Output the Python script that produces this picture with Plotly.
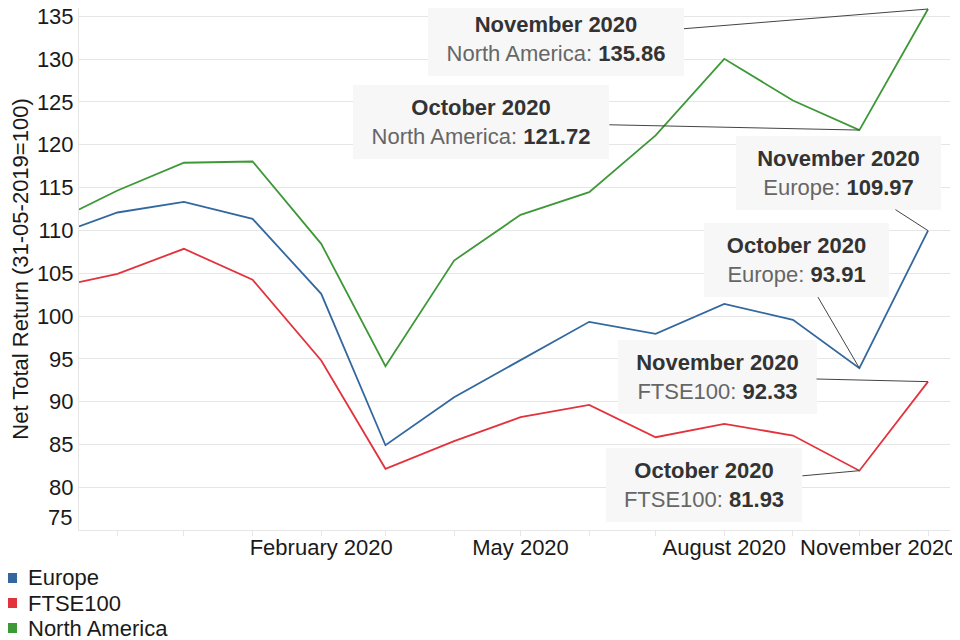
import plotly.graph_objects as go

# ---- data ----
dates = ["2019-10-14 15:00", "2019-11-01", "2019-12-01", "2020-01-01", "2020-02-01",
         "2020-03-01", "2020-04-01", "2020-05-01", "2020-06-01", "2020-07-01",
         "2020-08-01", "2020-09-01", "2020-10-01", "2020-11-01"]
europe = [110.46, 112.09, 113.34, 111.35, 102.59, 84.90, 90.51, 94.88, 99.32, 97.92,
          101.42, 99.55, 93.91, 109.97]
ftse100 = [103.95, 104.93, 107.85, 104.23, 94.80, 82.15, 85.38, 88.18, 89.62, 85.84,
           87.40, 86.04, 81.93, 92.33]
north_america = [112.44, 114.66, 117.90, 118.05, 108.43, 94.14, 106.48, 111.82, 114.46,
                 121.09, 130.04, 125.18, 121.72, 135.86]

series_names = ["Europe", "FTSE100", "North America"]
series_values = [europe, ftse100, north_america]
series_colors = ["#33689f", "#e2333d", "#3d9837"]

tick_dates = ["2019-11-01", "2019-12-01", "2020-01-01", "2020-02-01", "2020-03-01",
              "2020-04-01", "2020-05-01", "2020-06-01", "2020-07-01", "2020-08-01",
              "2020-09-01", "2020-10-01", "2020-11-01"]
tick_labels = ["", "", "", "February 2020", "", "", "May 2020", "", "", "August 2020",
               "", "", ""]
last_tick_label = "November 2020"
month_names = {"2020-10-01": "October 2020", "2020-11-01": "November 2020"}

y_ticks = list(range(75, 140, 5))
y_tick_labels = [""] + [str(v) for v in y_ticks[1:]]   # lowest label drawn lifted

FONT = "Liberation Sans, Arial, sans-serif"
OFF = 8  # page body margin of the html page
W, H = 952, 632
ML, MR, MT, MB = 71, 10, 0, 110
PW, PH = W - ML - MR, H - MT - MB


def px_x(px):
    return (px - OFF - ML) / PW


def px_y(py):
    return (H - MB - (py - OFF)) / PH


fig = go.Figure()
for name, vals, col in zip(series_names, series_values, series_colors):
    fig.add_trace(go.Scatter(x=dates, y=vals, mode="lines", name=name,
                             line=dict(color=col, width=1.8), showlegend=False))

# ---- callouts: (series index, point index, ax, ay, box width) ----
callouts = [
    (2, 13, -372, 30, 240),
    (2, 12, -378, -8, 240),
    (0, 13, -90, -58, 189),
    (0, 12, -63, -108, 169),
    (1, 13, -211, -5, 183),
    (1, 12, -155, 14, 180),
]
annotations = []
for si, pi, ax, ay, bw in callouts:
    txt = ("<b>%s</b><br><span style='color:#666666'>%s:</span> <b>%.2f</b>"
           % (month_names[dates[pi]], series_names[si], series_values[si][pi]))
    annotations.append(dict(
        x=dates[pi], y=series_values[si][pi], xref="x", yref="y",
        text=txt, showarrow=True, arrowhead=0, arrowwidth=1, arrowcolor="#444444",
        ax=ax, ay=ay, bgcolor="#f7f7f7", borderpad=8, borderwidth=0,
        width=bw, height=58, align="center",
        font=dict(family=FONT, size=22, color="#333333")))

# last x tick label, kept inside the canvas
annotations.append(dict(
    x=tick_dates[-1], y=0, xref="x", yref="paper", text=last_tick_label,
    showarrow=False, xanchor="right", yanchor="top", xshift=30, yshift=-4,
    borderpad=0, font=dict(family=FONT, size=22, color="#1a1a1a")))

# lowest y tick label, lifted to stay clear of the x axis
annotations.append(dict(
    x=0, y=y_ticks[0], xref="paper", yref="y", text=str(y_ticks[0]),
    showarrow=False, xanchor="right", yanchor="middle", xshift=-6, yshift=13,
    borderpad=0, font=dict(family=FONT, size=22, color="#1a1a1a")))

# legend (drawn as annotations + squares)
shapes = []
legend_rows = [578, 603, 628]
for name, col, ry in zip(series_names, series_colors, legend_rows):
    shapes.append(dict(type="rect", xref="paper", yref="paper",
                       x0=px_x(7), x1=px_x(17), y0=px_y(ry + 5), y1=px_y(ry - 5),
                       fillcolor=col, line=dict(width=0)))
    annotations.append(dict(x=px_x(27), y=px_y(ry), xref="paper", yref="paper",
                            text=name, showarrow=False, xanchor="left",
                            yanchor="middle", borderpad=0,
                            font=dict(family=FONT, size=22, color="#1a1a1a")))

fig.update_layout(
    width=W, height=H,
    margin=dict(l=ML, r=MR, t=MT, b=MB, autoexpand=False),
    paper_bgcolor="white", plot_bgcolor="white",
    font=dict(family=FONT, size=22, color="#1a1a1a"),
    showlegend=False,
    annotations=annotations, shapes=shapes,
    xaxis=dict(
        type="date", range=["2019-10-14 15:00", "2020-11-10 22:00"],
        tickmode="array", tickvals=tick_dates, ticktext=tick_labels,
        ticks="outside", ticklen=5, tickcolor="#e6e6e6", tickwidth=1,
        ticklabelstandoff=-7,
        showgrid=False, showline=True, linecolor="#e6e6e6", linewidth=1,
        zeroline=False, tickfont=dict(family=FONT, size=22, color="#1a1a1a"),
        automargin=False),
    yaxis=dict(
        range=[75, 135.98], tickmode="array", tickvals=y_ticks, ticktext=y_tick_labels,
        showgrid=True, gridcolor="#e6e6e6", gridwidth=1,
        showline=True, linecolor="#e6e6e6", linewidth=1, zeroline=False,
        ticks="", ticklabelstandoff=0, ticklabeloverflow="allow",
        tickfont=dict(family=FONT, size=22, color="#1a1a1a"),
        title=dict(text="Net Total Return (31-05-2019=100)", standoff=6,
                   font=dict(family=FONT, size=22, color="#1a1a1a")),
        automargin=False),
)

fig.write_html("out.html")
